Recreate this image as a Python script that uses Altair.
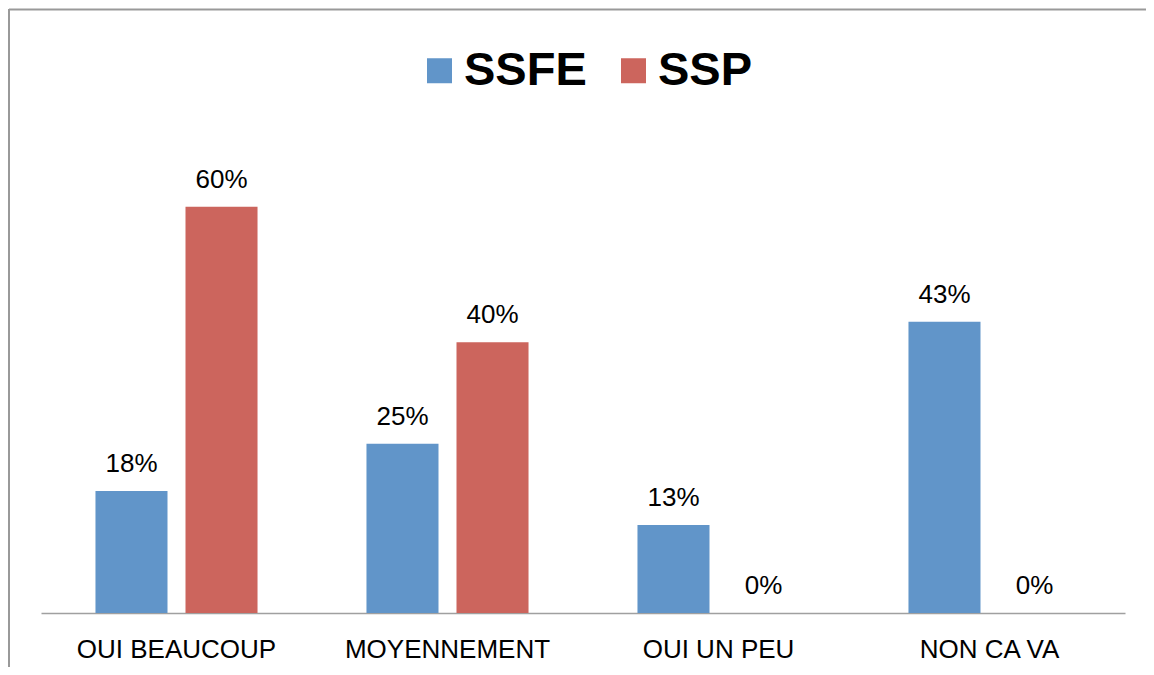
import altair as alt
import pandas as pd

categories = ["OUI BEAUCOUP", "MOYENNEMENT", "OUI UN PEU", "NON CA VA"]
series = ["SSFE", "SSP"]
ssfe = [18, 25, 13, 43]
ssp = [60, 40, 0, 0]
colors = ["#6195C9", "#CC655D"]

rows = []
for c, a, b in zip(categories, ssfe, ssp):
    rows.append({"cat": c, "serie": "SSFE", "val": a, "lab": f"{a}%"})
    rows.append({"cat": c, "serie": "SSP", "val": b, "lab": f"{b}%"})
df = pd.DataFrame(rows)

FONT = "Liberation Sans"

x = alt.X("cat:N", sort=categories, title=None,
          scale=alt.Scale(paddingInner=0.402, paddingOuter=0.201),
          axis=alt.Axis(labelAngle=0, labelFontSize=26, labelFont=FONT, labelColor="#000000",
                        labelBaseline="alphabetic", labelPadding=44, ticks=False,
                        domainColor="#A0A0A0", domainWidth=1.5, labelLimit=400))
xo = alt.XOffset("serie:N", sort=series, scale=alt.Scale(paddingInner=0.2, paddingOuter=0))
y = alt.Y("val:Q", scale=alt.Scale(domain=[0, 70]), axis=None)

base = alt.Chart(df)
bars = base.mark_bar().encode(
    x=x, xOffset=xo, y=y,
    color=alt.Color("serie:N", sort=series,
                    scale=alt.Scale(domain=series, range=colors),
                    legend=alt.Legend(title=None, orient="none", direction="horizontal",
                                      legendX=375, legendY=-92, symbolType="square",
                                      symbolSize=625, symbolStrokeWidth=0,
                                      labelFontSize=47, labelFont=FONT, labelFontWeight="bold",
                                      labelColor="#000000", labelOffset=1, columnPadding=23,
                                      padding=0, labelLimit=400)),
)
texts = base.mark_text(baseline="alphabetic", dy=-19, fontSize=26, font=FONT, color="#000000").encode(
    x=x, xOffset=xo, y=y, text="lab:N"
)

one = alt.Chart(pd.DataFrame({"a": [0]}))
top_line = one.mark_rule(color="#999999", strokeWidth=2).encode(
    x=alt.value(-32), x2=alt.value(1105), y=alt.value(-129.5)
)
left_line = one.mark_rule(color="#999999", strokeWidth=2).encode(
    x=alt.value(-32), y=alt.value(-130), y2=alt.value(528)
)

chart = alt.layer(bars, texts, top_line, left_line).properties(
    width=1084, height=474,
    autosize=alt.AutoSizeParams(type="none"),
    padding={"left": 33, "top": 131, "right": 21, "bottom": 54},
).configure(background="#FFFFFF").configure_view(strokeWidth=0, stroke="transparent")

chart.save("out.html", embed_options={"renderer": "svg", "actions": False})
